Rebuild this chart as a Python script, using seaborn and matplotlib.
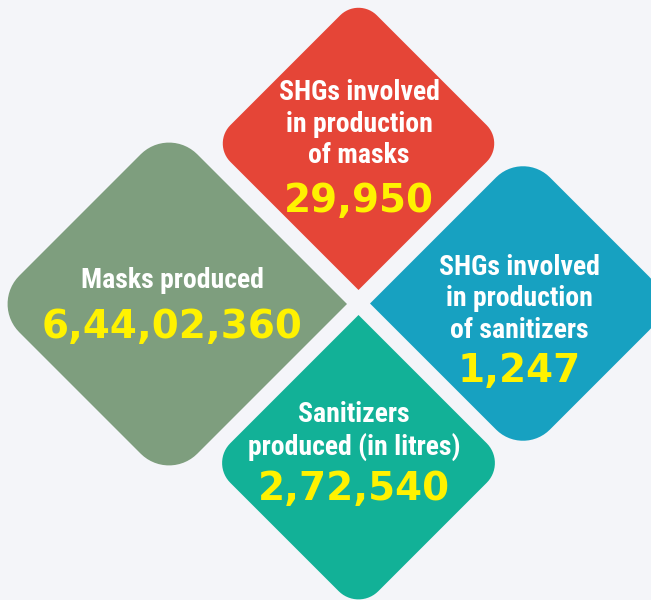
import numpy as np
import matplotlib
matplotlib.use('Agg')
import matplotlib.pyplot as plt
import seaborn as sns
from matplotlib import font_manager
from matplotlib.font_manager import FontProperties
from matplotlib.patches import Polygon

# Data shown in the four tiles
labels = ['SHGs involved\nin production\nof masks',
          'Masks produced',
          'SHGs involved\nin production\nof sanitizers',
          'Sanitizers\nproduced (in litres)']
values = [29950, 64402360, 1247, 272540]
colors = ['#e54537', '#7e9e7e', '#17a1c1', '#12b197']

# Layout of the tiles (pixel coords, y down): centre, half diagonal, corner radius, sharp corner
centres = [(358.5, 143.5), (169, 304), (523, 303.5), (358.5, 463)]
half_diag = [146.5, 178, 153, 148]
radius = [26, 40, 38, 28]
sharp = ['bottom', 'right', 'left', 'top']
text_x = [359, 172, 519, 354]
label_y = [124, 280, 299, 431]
value_y = [201, 327, 371, 489]


def indian_format(n):
    # Indian digit grouping: 6,44,02,360
    s = str(n)
    if len(s) <= 3:
        return s
    head, tail = s[:-3], s[-3:]
    groups = []
    while len(head) > 2:
        groups.insert(0, head[-2:])
        head = head[:-2]
    if head:
        groups.insert(0, head)
    return ','.join(groups + [tail])


def rounded_diamond(cx, cy, d, r, sharp_corner):
    corners = {'top': np.array([cx, cy - d]), 'right': np.array([cx + d, cy]),
               'bottom': np.array([cx, cy + d]), 'left': np.array([cx - d, cy])}
    order = ['top', 'right', 'bottom', 'left']
    pts = []
    for i, name in enumerate(order):
        v = corners[name]
        if name == sharp_corner:
            pts.append(v)
            continue
        u1 = corners[order[i - 1]] - v
        u1 = u1 / np.linalg.norm(u1)
        u2 = corners[order[(i + 1) % 4]] - v
        u2 = u2 / np.linalg.norm(u2)
        p1 = v + u1 * r
        p2 = v + u2 * r
        bis = (u1 + u2) / np.linalg.norm(u1 + u2)
        c = v + bis * r * np.sqrt(2)
        a1 = np.arctan2(*(p1 - c)[::-1])
        a2 = np.arctan2(*(p2 - c)[::-1])
        delta = (a2 - a1 + np.pi) % (2 * np.pi) - np.pi
        for t in np.linspace(0, 1, 16):
            a = a1 + t * delta
            pts.append(c + r * np.array([np.cos(a), np.sin(a)]))
    return np.array(pts)


sns.set_theme(style='white')

installed = {f.name for f in font_manager.fontManager.ttflist}
label_font = next((f for f in ['Liberation Sans Narrow', 'Roboto Condensed',
                               'DejaVu Sans Condensed', 'Roboto'] if f in installed), 'DejaVu Sans')

# heavy geometric font for the numbers, if a static heavy file is around
heavy = sorted([f for f in font_manager.fontManager.ttflist
                if f.name == 'Montserrat' and isinstance(f.weight, int) and f.weight >= 700],
               key=lambda f: -f.weight)
if heavy:
    value_prop = FontProperties(fname=heavy[0].fname, size=27)
else:
    value_prop = FontProperties(family='DejaVu Sans', weight='bold', size=28)

fig = plt.figure(figsize=(6.51, 6.0), dpi=100)
fig.patch.set_facecolor('#f4f5f9')
ax = fig.add_axes([0, 0, 1, 1])
ax.set_facecolor('#f4f5f9')
ax.set_xlim(0, 651)
ax.set_ylim(600, 0)
ax.axis('off')

for i in range(len(values)):
    cx, cy = centres[i]
    pts = rounded_diamond(cx, cy, half_diag[i], radius[i], sharp[i])
    ax.add_patch(Polygon(pts, closed=True, facecolor=colors[i], edgecolor='none'))
    ax.text(text_x[i], label_y[i], labels[i], ha='center', va='center',
            color='white', fontsize=20, fontweight='bold', family=label_font,
            linespacing=1.2)
    ax.text(text_x[i], value_y[i], indian_format(values[i]), ha='center',
            va='center', color='#fff200', fontproperties=value_prop)

fig.savefig('out.png', dpi=100, facecolor=fig.get_facecolor())
